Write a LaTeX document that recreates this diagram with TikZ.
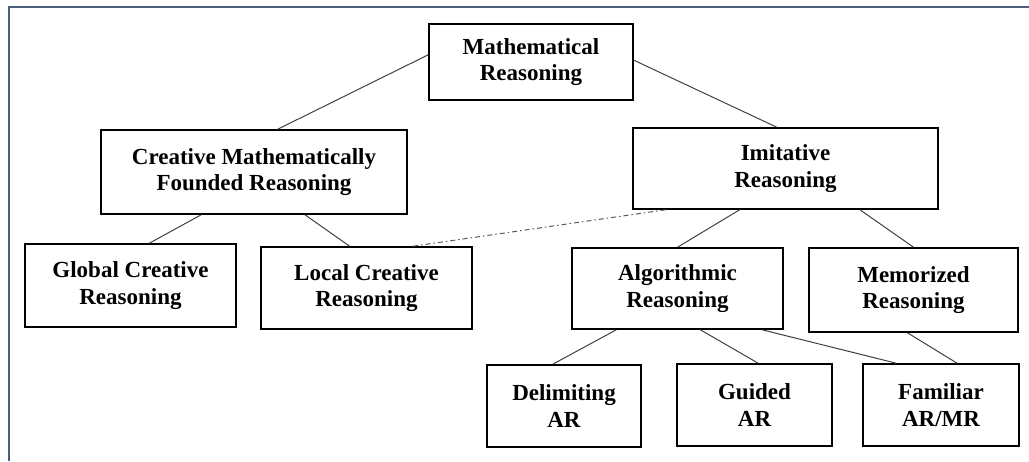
\documentclass[tikz,border=0pt]{standalone}
\usepackage{fontspec}
\setmainfont{Liberation Serif}
\definecolor{framecol}{RGB}{78,94,122}

\begin{document}
\begin{tikzpicture}[x=1pt,y=-1pt,
  box/.style={draw,line width=1.6pt,align=center,inner sep=0pt,
    font=\fontsize{23}{26.5}\selectfont\bfseries},
  link/.style={draw=black!75,line width=1pt},
  dashlink/.style={draw=black!65,line width=1pt,dash pattern=on 5pt off 3pt on 1.5pt off 3pt}]
\useasboundingbox (0,0) rectangle (1029,461);
\draw[framecol,line width=2pt] (1029,7) -- (9,7) -- (9,461);
\node[box,minimum width=204pt,minimum height=76pt] (math) at (531,62) {Mathematical\\Reasoning};
\node[box,minimum width=306pt,minimum height=84pt] (creative) at (254,172) {Creative Mathematically\\Founded Reasoning};
\node[box,minimum width=305pt,minimum height=81pt] (imitative) at (785.5,168.5) {Imitative\\Reasoning};
\node[box,minimum width=211pt,minimum height=83pt] (global) at (130.5,285.5) {Global Creative\\Reasoning};
\node[box,minimum width=211pt,minimum height=82pt] (local) at (366.5,288) {Local Creative\\Reasoning};
\node[box,minimum width=211pt,minimum height=81pt] (algo) at (677.5,288.5) {Algorithmic\\Reasoning};
\node[box,minimum width=209pt,minimum height=84pt] (memo) at (913.5,290) {Memorized\\Reasoning};
\node[box,minimum width=154pt,minimum height=82pt] (delim) at (564,406) {Delimiting\\AR};
\node[box,minimum width=155pt,minimum height=82pt] (guided) at (754.5,405) {Guided\\AR};
\node[box,minimum width=156pt,minimum height=82pt] (familiar) at (941,405) {Familiar\\AR/MR};
\draw[link] (math.176) -- (creative.61);
\draw[link] (math.1) -- (imitative.102);
\draw[link] (creative.219) -- (global.66);
\draw[link] (creative.320) -- (local.112);
\draw[dashlink] (imitative.199) -- (local.42);
\draw[link] (imitative.222) -- (algo.north);
\draw[link] (imitative.331) -- (memo.north);
\draw[link] (algo.214) -- (delim.105);
\draw[link] (algo.299) -- (guided.85);
\draw[link] (algo.334) -- (familiar.137);
\draw[link] (memo.262) -- (familiar.69);
\end{tikzpicture}
\end{document}
